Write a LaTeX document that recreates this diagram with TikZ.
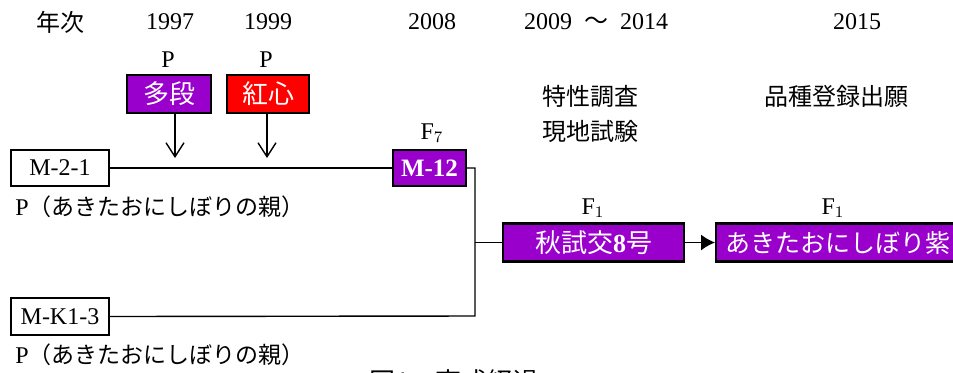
\documentclass[tikz,border=0pt]{standalone}
\usepackage{fontspec}
\setmainfont{Liberation Serif}
\newfontfamily\jp{Noto Sans CJK JP}
\usetikzlibrary{arrows.meta}
\definecolor{breedpurple}{RGB}{153, 0, 204}
\definecolor{breedred}{RGB}{255, 0, 0}
\tikzset{
    parentbox/.style={draw, line width=0.9pt, fill=white, inner sep=0pt, minimum width=49pt, minimum height=18pt},
    purplebox/.style={draw, line width=1.2pt, fill=breedpurple, text=white, inner sep=0pt, minimum height=19pt, font=\fontsize{13}{15}\selectfont},
    redbox/.style={purplebox, fill=breedred},
    link/.style={line width=0.7pt}
}

\begin{document}
\begin{tikzpicture}[x=0.5pt, y=-0.5pt, font=\fontsize{12}{14}\selectfont]
    \useasboundingbox (0,0) rectangle (953,372);

    % year row
    \node (nenji) at (60,22) {\jp 年次};
    \node (y1997) at (170,22) {1997};
    \node (y1999) at (268,22) {1999};
    \node (y2008) at (432,22) {2008};
    \node (y2009) at (596,22) {2009\ \ {\jp ～}\ \ 2014};
    \node (y2015) at (857,22) {2015};

    % pollen parents
    \node (ptajo) at (168,60) {P};
    \node (pkoushin) at (266,60) {P};
    \node[purplebox, minimum width=42pt] (tajo) at (169,94) {\jp 多段};
    \node[redbox, minimum width=41pt] (koushin) at (268,94) {\jp 紅心};

    % stage notes
    \node[anchor=west] (tokusei) at (535,96) {\jp 特性調査};
    \node[anchor=west] (genchi) at (535,131) {\jp 現地試験};
    \node (touroku) at (836,96) {\jp 品種登録出願};

    % lines and parents
    \node[parentbox] (mtwo) at (60,168) {M-2-1};
    \node[anchor=west, inner sep=0pt] (oyaone) at (15,207) {P{\fontsize{11.5}{14}\selectfont\jp （あきたおにしぼりの親）}};
    \node[parentbox, minimum height=18.5pt] (mkone) at (60,316.5) {M-K1-3};
    \node[anchor=west, inner sep=0pt] (oyatwo) at (15,355) {P{\fontsize{11.5}{14}\selectfont\jp （あきたおにしぼりの親）}};

    \node (ffseven) at (432,133) {F$_7$};
    \node[purplebox, minimum width=36.5pt, minimum height=18pt, font=\fontsize{12.5}{14}\selectfont] (mtwelve) at (429.5,168) {\textbf{M-12}};

    \node (ffone) at (593,208) {F$_1$};
    \node[purplebox, minimum width=90.5pt] (shikou) at (593.5,242.5) {{\jp 秋試交}\textbf{8}{\jp 号}};
    \node (ffonetwo) at (833,208) {F$_1$};
    \node[purplebox, anchor=west, minimum width=122pt, font=\fontsize{12.5}{14}\selectfont] (murasaki) at (715,242.5) {\jp あきたおにしぼり紫\hspace{6pt}};

    \node[anchor=north west] (caption) at (362,363) {\fontsize{13}{15}\selectfont\jp 図1　育成経過};

    % connectors
    \coordinate (tipone) at (175,158);
    \coordinate (tiptwo) at (267,158);
    \coordinate (joint) at (475,316);
    \draw[link, -{Straight Barb[length=7pt, width=9pt]}] (tajo.south -| tipone) -- (tipone);
    \draw[link, -{Straight Barb[length=7pt, width=9pt]}] (koushin.south -| tiptwo) -- (tiptwo);
    \draw[link] (mtwo.east) -- (mtwelve.west);
    \draw[link] (mtwelve.east) -| (joint) -- (mkone.east);
    \draw[link] (shikou.west) -- (shikou.west -| joint);
    \draw[link, -{Latex[length=7pt, width=8pt]}] (shikou.east) -- (murasaki.west);
\end{tikzpicture}
\end{document}
